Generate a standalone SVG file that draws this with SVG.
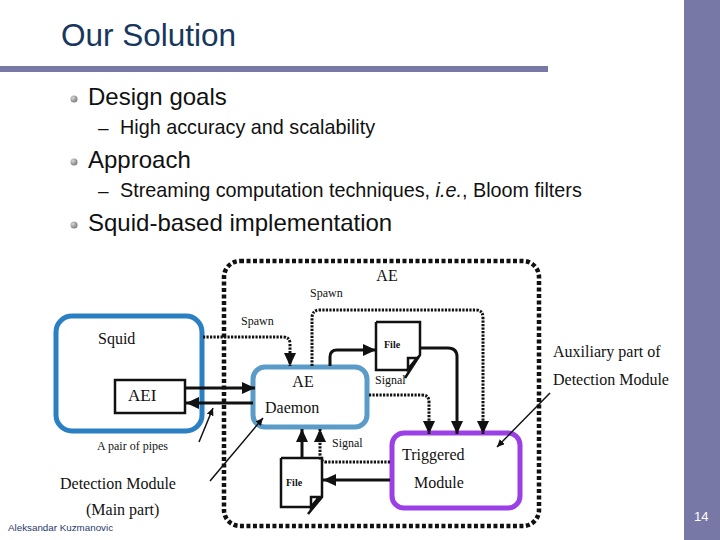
<svg xmlns="http://www.w3.org/2000/svg" width="720" height="540" viewBox="0 0 720 540">
<defs>
<style>
.sans{font-family:"Liberation Sans",Arial,sans-serif;}
.ser{font-family:"Liberation Serif","Times New Roman",serif;fill:#111;}
.solid{fill:none;stroke:#111;stroke-width:3;}
.dot{fill:none;stroke:#111;stroke-width:3;stroke-dasharray:2.2 1.3;}
.thin{fill:none;stroke:#111;stroke-width:1.5;}
.file{fill:#fff;stroke:#111;stroke-width:2.5;}
</style>
<marker id="ah" markerUnits="userSpaceOnUse" markerWidth="14" markerHeight="12" refX="13" refY="6" orient="auto">
<path d="M0,0 L13,6 L0,12 Z" fill="#111"/>
</marker>
<marker id="sh" markerUnits="userSpaceOnUse" markerWidth="8" markerHeight="7" refX="7.5" refY="3.5" orient="auto">
<path d="M0,0 L7.5,3.5 L0,7 Z" fill="#111"/>
</marker>
<radialGradient id="bul" cx="0.35" cy="0.35" r="0.7">
<stop offset="0" stop-color="#d8d8d8"/>
<stop offset="1" stop-color="#777"/>
</radialGradient>
</defs>
<rect width="720" height="540" fill="#fff"/>
<rect x="684" y="0" width="36" height="540" fill="#7878a6"/>
<rect x="0" y="66" width="548" height="6" fill="#7878a6"/>
<text x="61" y="46" class="sans" font-size="31.5" fill="#17375e">Our Solution</text>
<g id="bullets" class="sans" fill="#111">
<circle cx="74" cy="99" r="3.5" fill="url(#bul)"/>
<text x="88" y="105" font-size="24">Design goals</text>
<text x="98" y="134" font-size="19">–</text>
<text x="120" y="134" font-size="19.8">High accuracy and scalability</text>
<circle cx="74" cy="162" r="3.5" fill="url(#bul)"/>
<text x="88" y="168" font-size="24">Approach</text>
<text x="98" y="197" font-size="19">–</text>
<text x="120" y="197" font-size="19.8">Streaming computation techniques, <tspan font-style="italic">i.e.</tspan>, Bloom filters</text>
<circle cx="74" cy="225" r="3.5" fill="url(#bul)"/>
<text x="88" y="231" font-size="24">Squid-based implementation</text>
</g>
<g id="ae-container">
<rect x="224" y="261" width="315" height="265" rx="16" fill="none" stroke="#111" stroke-width="4.5" stroke-dasharray="4 2.5"/>
<text x="387" y="281" class="ser" font-size="16" text-anchor="middle">AE</text>
</g>
<g id="squid">
<rect x="56" y="316" width="146" height="115" rx="16" fill="#fff" stroke="#2a80c2" stroke-width="5"/>
<text x="98" y="344" class="ser" font-size="16">Squid</text>
</g>
<g id="aei">
<rect x="115" y="380" width="70" height="33" fill="#fff" stroke="#111" stroke-width="2.5"/>
<text x="128" y="401" class="ser" font-size="17">AEI</text>
</g>
<g id="ae-daemon">
<rect x="253" y="367" width="114" height="60" rx="12" fill="#fff" stroke="#5a9bc8" stroke-width="5"/>
<text x="303" y="387" class="ser" font-size="16" text-anchor="middle">AE</text>
<text x="265" y="413" class="ser" font-size="16">Daemon</text>
</g>
<g id="triggered">
<rect x="392" y="433" width="128" height="75" rx="12" fill="#fff" stroke="#9a40e6" stroke-width="5"/>
<text x="402" y="460" class="ser" font-size="16">Triggered</text>
<text x="414" y="488" class="ser" font-size="16">Module</text>
</g>
<g id="file-top">
<path class="file" d="M376,322 H420 V355 L405,378 M420,355 L407,370 H376 V322"/>
<path class="file" d="M408,358 L417,358 L408,369 Z"/>
<text x="384" y="348" class="ser" font-size="10" font-weight="bold">File</text>
</g>
<g id="file-bottom">
<path class="file" d="M281,458 H322 V497 L308,514 M322,497 L312,507 H281 V458"/>
<path class="file" d="M311,497 L319,497 L311,507 Z"/>
<text x="286" y="486" class="ser" font-size="10" font-weight="bold">File</text>
</g>
<g id="connectors">
<path class="dot" d="M203,337 H283 Q290,337 290,344 V366" marker-end="url(#ah)"/>
<path class="dot" d="M312,366 V318 Q312,310 320,310 H476 Q483,310 483,318 V434" marker-end="url(#ah)"/>
<path class="solid" d="M330,366 V357 Q330,350 337,350 H376" marker-end="url(#ah)"/>
<path class="solid" d="M421,348 H448 Q457,348 457,357 V434" marker-end="url(#ah)"/>
<path class="dot" d="M369,395 H422 Q429,395 429,402 V434" marker-end="url(#ah)"/>
<path class="solid" d="M186,388 H255" marker-end="url(#ah)"/>
<path class="solid" d="M253,403 H186" marker-end="url(#ah)"/>
<path class="solid" d="M302,458 V429" marker-end="url(#ah)"/>
<path class="dot" d="M390,462 H327 Q320,462 320,455 V429" marker-end="url(#ah)"/>
<path class="solid" d="M390,480 H323" marker-end="url(#ah)"/>
<path class="thin" d="M199,442 L213,408" marker-end="url(#sh)"/>
<path class="thin" d="M210,481 L263,418" marker-end="url(#sh)"/>
<path class="thin" d="M550,393 L497,447" marker-end="url(#sh)"/>
</g>
<g id="labels" class="ser">
<text x="310" y="297" font-size="12">Spawn</text>
<text x="241" y="325" font-size="12">Spawn</text>
<text x="375" y="384" font-size="12">Signal</text>
<text x="332" y="447" font-size="12">Signal</text>
<text x="97" y="450" font-size="12">A pair of pipes</text>
<text x="60" y="489" font-size="16">Detection Module</text>
<text x="86" y="515" font-size="16">(Main part)</text>
<text x="553" y="357" font-size="16">Auxiliary part of</text>
<text x="553" y="385" font-size="16">Detection Module</text>
</g>
<text x="8" y="531" class="sans" font-size="9.8" fill="#1f3a6e">Aleksandar Kuzmanovic</text>
<text x="694" y="521" class="sans" font-size="13" fill="#fff">14</text>
</svg>
